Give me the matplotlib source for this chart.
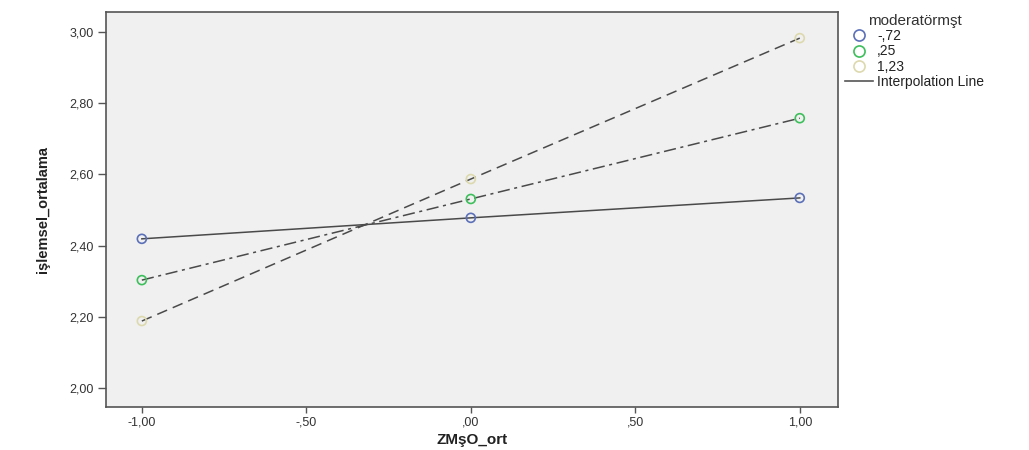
import matplotlib
matplotlib.use("Agg")
import matplotlib.pyplot as plt
from matplotlib.lines import Line2D

plt.rcParams['font.family'] = ['Liberation Sans', 'DejaVu Sans']

x = [-1.0, 0.0, 1.0]
groups = ['-,72', ',25', '1,23']
y_low = [2.419, 2.478, 2.534]
y_mid = [2.303, 2.531, 2.758]
y_high = [2.188, 2.587, 2.983]
series = [y_low, y_mid, y_high]
colors = ['#5b70b8', '#3dbf5c', '#ddd9ae']
styles = ['-', (0, (8, 3, 2, 3)), (0, (7, 4))]

xticks = [-1.0, -0.5, 0.0, 0.5, 1.0]
xlabels = ['-1,00', '-,50', ',00', ',50', '1,00']
yticks = [2.0, 2.2, 2.4, 2.6, 2.8, 3.0]
ylabels = ['2,00', '2,20', '2,40', '2,60', '2,80', '3,00']

fig = plt.figure(figsize=(10.29, 4.5), dpi=100)
ax = fig.add_axes([0.103, 0.096, 0.711, 0.877])
ax.set_facecolor('#f0f0f0')

for ys, c, ls in zip(series, colors, styles):
    ax.plot(x, ys, color='#4a4a4a', lw=1.1, linestyle=ls, zorder=2)
    ax.scatter(x, ys, s=42, facecolors='none', edgecolors=c, linewidths=1.2, zorder=3)

ax.set_xlim(-1.109, 1.115)
ax.set_ylim(1.947, 3.056)
ax.set_xticks(xticks)
ax.set_xticklabels(xlabels)
ax.set_yticks(yticks)
ax.set_yticklabels(ylabels)
ax.tick_params(axis='x', direction='out', length=4, pad=3)
ax.tick_params(axis='y', direction='out', length=6, pad=3)
ax.tick_params(width=1, colors='#555555', labelsize=9, labelcolor='#333333')
for s in ax.spines.values():
    s.set_color('#555555')
    s.set_linewidth(1.2)

ax.set_xlabel('ZMşO_ort', fontsize=11, fontweight='bold', color='#222222', labelpad=3)
ax.set_ylabel('işlemsel_ortalama', fontsize=10.5, fontweight='bold', color='#222222',
              labelpad=14)

handles = [Line2D([], [], marker='o', linestyle='none', markerfacecolor='none',
                  markeredgecolor=c, markersize=8, markeredgewidth=1.2) for c in colors]
handles.append(Line2D([], [], color='#555555', lw=1.2))
leg = fig.legend(handles, groups + ['Interpolation Line'], title='moderatörmşt',
                 loc='upper left', bbox_to_anchor=(0.812, 0.99), frameon=False,
                 fontsize=10, title_fontsize=11, handlelength=2.0, handletextpad=0.3,
                 labelspacing=0.08, borderpad=0.2)
leg.get_title().set_color('#333333')
for t in leg.get_texts():
    t.set_color('#222222')

fig.savefig('out.png', dpi=100)
